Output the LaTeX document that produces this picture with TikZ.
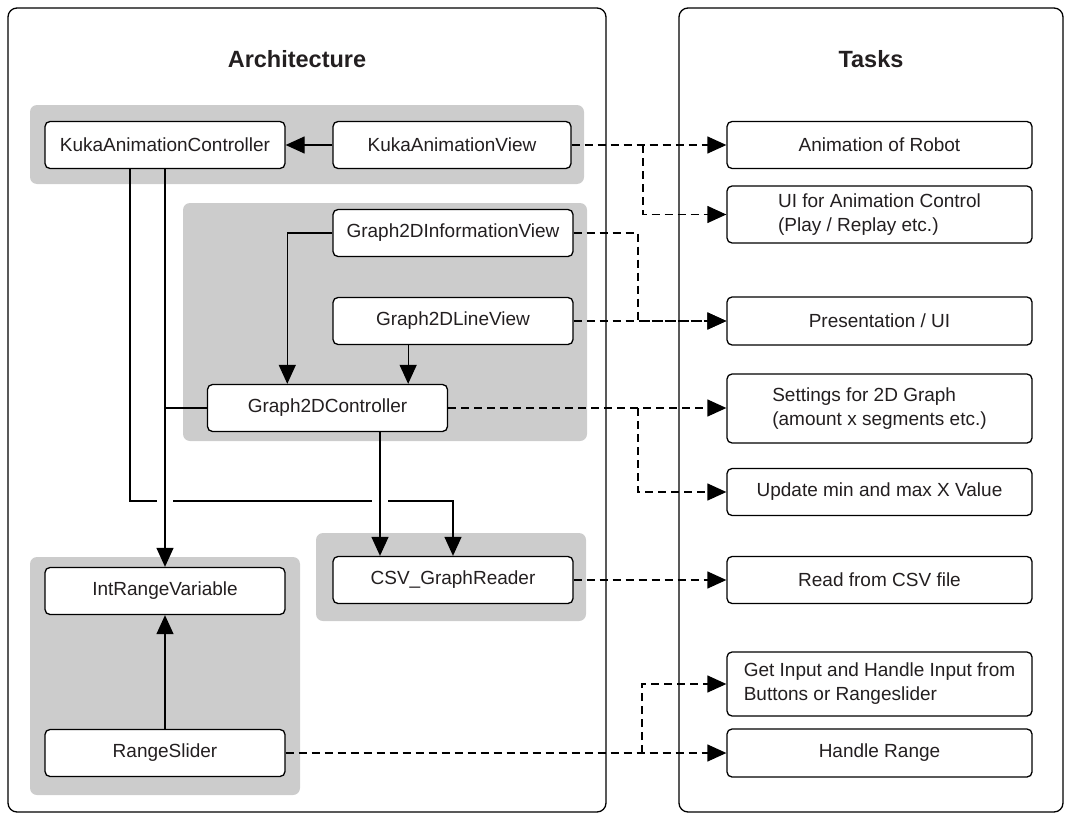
\documentclass[tikz,border=0pt]{standalone}
\usepackage{fontspec}
\setmainfont{Liberation Sans}
\usetikzlibrary{arrows.meta,calc}
\definecolor{grp}{RGB}{204,204,204}
\definecolor{txt}{RGB}{35,31,32}
\begin{document}
\begin{tikzpicture}[x=1pt,y=-1pt,
 box/.style={draw=black, line width=1.3pt, rounded corners=5pt, fill=white, minimum width=240pt, minimum height=47pt, inner sep=0pt, font=\fontsize{19}{24}\selectfont, text=txt},
 task/.style={box, minimum width=305pt, align=left},
 grpbox/.style={fill=grp, rounded corners=7pt},
 panel/.style={draw=black, line width=1.3pt, rounded corners=9pt},
 arr/.style={line width=1.3pt, -{Triangle[length=19pt,width=17pt]}},
 ln/.style={line width=1.3pt},
 dsh/.style={line width=1.3pt, dash pattern=on 8pt off 5pt},
 darr/.style={dsh, -{Triangle[length=19pt,width=17pt]}},
 ttl/.style={font=\fontsize{23.5}{28}\selectfont\bfseries, text=txt}]
\useasboundingbox (0,0) rectangle (1066,816);
% panels
\draw[panel] (8,8) rectangle (606,812);
\draw[panel] (679,8) rectangle (1063,812);
\node[ttl] (tarch) at (297,59) {Architecture};
\node[ttl] (ttask) at (871,59) {Tasks};
% groups
\fill[grpbox] (30,105) rectangle (584,184);
\fill[grpbox] (183,203) rectangle (587,441);
\fill[grpbox] (316,533) rectangle (586,621);
\fill[grpbox] (30,557) rectangle (300,795);
% architecture nodes
\node[box] (kac) at (165,145) {KukaAnimationController};
\node[box, minimum width=238pt] (kav) at (452,145) {KukaAnimationView};
\node[box] (giv) at (453,233) {Graph2DInformationView};
\node[box] (glv) at (453,321) {Graph2DLineView};
\node[box] (gc) at (327.5,408) {Graph2DController};
\node[box] (csv) at (453,580) {CSV\_GraphReader};
\node[box] (irv) at (165,591) {IntRangeVariable};
\node[box] (rs) at (165,753) {RangeSlider};
% task nodes
\node[task] (t1) at (879.5,145) {Animation of Robot};
\node[task, minimum height=57pt] (t2) at (879.5,214.5) {UI for Animation Control\\(Play / Replay etc.)};
\node[task, minimum height=48pt] (t3) at (879.5,321) {Presentation / UI};
\node[task, minimum height=69pt] (t4) at (879.5,408.5) {Settings for 2D Graph\\(amount x segments etc.)};
\node[task] (t5) at (879.5,492) {Update min and max X Value};
\node[task] (t6) at (879.5,580) {Read from CSV file};
\node[task, minimum height=64pt] (t7) at (879.5,684) {Get Input and Handle Input from\\Buttons or Rangeslider};
\node[task, minimum height=48pt] (t8) at (879.5,753) {Handle Range};
% solid connectors
\draw[arr] (kav.west) -- (kac.east);
\coordinate (gcA) at ($(gc.north west)!1/3!(gc.north east)$);
\draw[arr] (giv.west) -| (gcA);
\coordinate (gcC) at ($(gc.north east)+(-40,0)$);
\draw[arr] (gcC |- glv.south) -- (gcC);
\coordinate (kacL) at ($(kac.south)+(-35,0)$);
\coordinate (jy) at (0,501);
\coordinate (gcB) at ($(gc.south)+(52.5,0)$);
\draw[arr] (kacL) -- (kacL |- jy) -| (csv.north);
\fill[white] ($(kac.south |- jy)+(-8,-3)$) rectangle ++(16,6);
\fill[white] ($(gcB |- jy)+(-8,-3)$) rectangle ++(16,6);
\draw[arr] (kac.south) -- (irv.north);
\draw[ln] (gc.west) -- (gc.west -| kac.south);
\draw[arr] (gcB) -- (gcB |- csv.north);
\draw[arr] (rs.north) -- (irv.south);
% dashed connectors
\coordinate (b1) at (643,0);
\coordinate (b2) at (638,0);
\coordinate (b3) at (642,0);
\draw[darr] (kav.east) -- (t1.west);
\draw[darr] (b1 |- kav.east) |- (t2.west);
\draw[darr] (giv.east) -| (b2 |- t3.west) -- (t3.west);
\draw[darr] (glv.east) -- (t3.west);
\draw[darr] (gc.east) -- (gc.east -| t4.west);
\draw[darr] (b2 |- gc.east) |- (t5.west);
\draw[darr] (csv.east) -- (t6.west);
\draw[darr] (rs.east) -- (rs.east -| t8.west);
\draw[darr] (b3 |- rs.east) |- (t7.west);
\end{tikzpicture}
\end{document}
